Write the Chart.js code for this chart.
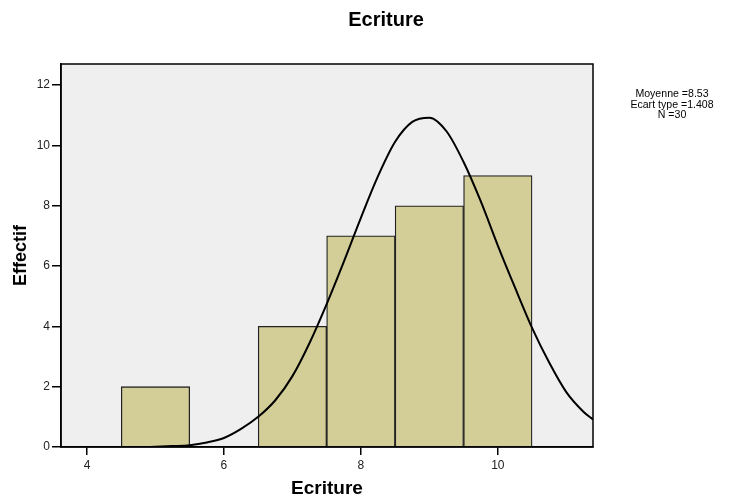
<!DOCTYPE html>
<html>
<head>
<meta charset="utf-8">
<script src="https://cdn.jsdelivr.net/npm/chart.js@4"></script>
<style>
  html, body { margin: 0; padding: 0; background: #fff; }
</style>
</head>
<body>
<canvas id="hist" width="743" height="497"></canvas>
<script>
// histogram data
const binCenters = [5, 7, 8, 9, 10];
const counts = [2, 4, 7, 8, 9];

// normal curve, every 0.25
const curveX = [4.5, 4.75, 5.0, 5.25, 5.5, 5.75, 6.0, 6.25, 6.5, 6.75, 7.0, 7.25, 7.5, 7.75, 8.0, 8.25, 8.5, 8.75, 9.0, 9.25, 9.5, 9.75, 10.0, 10.25, 10.5, 10.75, 11.0, 11.25, 11.39];
const curveY = [0, 0, 0.01, 0.03, 0.06, 0.15, 0.3, 0.6, 1.0, 1.55, 2.35, 3.45, 4.74, 6.14, 7.6, 8.98, 10.12, 10.78, 10.92, 10.47, 9.45, 8.15, 6.68, 5.29, 3.95, 2.8, 1.82, 1.17, 0.91];

const xTickValues = [4, 6, 8, 10];
const yTickValues = [0, 2, 4, 6, 8, 10, 12];

const statsLines = ['Moyenne =8.53', 'Ecart type =1.408', 'N =30'];
const chartTitle = 'Ecriture';

const FONT = 'Arial, "Liberation Sans", sans-serif';

// gray plot background + frame, title and stats text
const decor = {
  id: 'decor',
  beforeDraw(chart) {
    const {ctx, chartArea: a} = chart;
    ctx.save();
    ctx.fillStyle = '#efefef';
    ctx.fillRect(a.left, a.top, a.right - a.left, a.bottom - a.top);
    ctx.restore();
  },
  afterDraw(chart) {
    const {ctx, chartArea: a} = chart;
    ctx.save();
    ctx.strokeStyle = '#000';
    ctx.lineWidth = 1.5;
    ctx.strokeRect(a.left, a.top, a.right - a.left, a.bottom - a.top);

    ctx.fillStyle = '#000';
    ctx.textAlign = 'center';
    ctx.textBaseline = 'middle';
    ctx.font = 'bold 20px ' + FONT;
    ctx.fillText(chartTitle, 386, 20);

    // stats text is a bit narrow in the original
    ctx.font = '11.5px ' + FONT;
    statsLines.forEach((s, i) => {
      ctx.save();
      ctx.translate(672, 94 + i * 10.5);
      ctx.scale(0.92, 1);
      ctx.fillText(s, 0, 0);
      ctx.restore();
    });
    ctx.restore();
  }
};

new Chart(document.getElementById('hist'), {
  type: 'bar',
  data: {
    datasets: [{
      type: 'line',
      data: curveX.map((x, i) => ({x: x, y: curveY[i]})),
      borderColor: '#000',
      borderWidth: 2,
      pointRadius: 0,
      cubicInterpolationMode: 'monotone',
      fill: false,
      order: 0
    }, {
      type: 'bar',
      data: binCenters.map((x, i) => ({x: x, y: counts[i]})),
      backgroundColor: '#d3ce98',
      borderColor: '#222',
      borderWidth: 1.3,
      barPercentage: 1,
      categoryPercentage: 1,
      order: 1
    }]
  },
  options: {
    responsive: false,
    animation: false,
    layout: { padding: { top: 64, right: 150, left: 0, bottom: 0 } },
    plugins: {
      legend: { display: false },
      tooltip: { enabled: false }
    },
    scales: {
      x: {
        type: 'linear',
        min: 3.62,
        max: 11.39,
        offset: false,
        afterFit: s => { s.height = 50; },
        afterBuildTicks: s => { s.ticks = xTickValues.map(v => ({value: v})); },
        grid: { offset: false, drawOnChartArea: false, tickLength: 8, color: '#000', lineWidth: 1.5 },
        border: { color: '#000', width: 1.5 },
        ticks: { color: '#222', font: { size: 12, family: FONT }, padding: 3 },
        title: { display: true, text: 'Ecriture', color: '#000', font: { size: 19, weight: 'bold', family: FONT }, padding: { top: 0, bottom: -3 } }
      },
      y: {
        min: 0,
        max: 12.7,
        afterFit: s => { s.width = 61; },
        afterBuildTicks: s => { s.ticks = yTickValues.map(v => ({value: v})); },
        grid: { drawOnChartArea: false, tickLength: 9, color: '#000', lineWidth: 1.5 },
        border: { color: '#000', width: 1.5 },
        ticks: { color: '#222', font: { size: 12, family: FONT }, padding: 2 },
        title: { display: true, text: 'Effectif', color: '#000', font: { size: 18, weight: 'bold', family: FONT }, padding: { top: 10, bottom: 0 } }
      }
    }
  },
  plugins: [decor]
});
</script>
</body>
</html>
